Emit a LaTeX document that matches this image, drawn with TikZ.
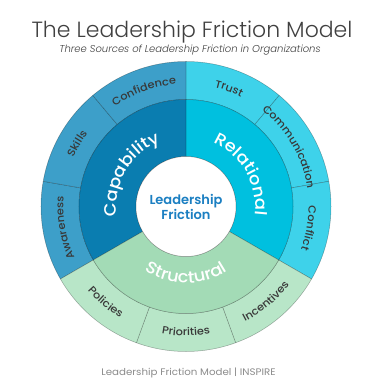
\documentclass[tikz,border=0pt]{standalone}
\usepackage{fontspec}
\setmainfont{Poppins}[FakeStretch=1.08]
\newfontfamily\lightfont{Poppins Light}
\newfontfamily\lightitfont{Poppins Light Italic}
\newfontfamily\medfont{Poppins Medium}[FakeStretch=1.08]
\newfontfamily\semifont{Poppins SemiBold}
\usetikzlibrary{decorations.text}
\definecolor{capIn}{HTML}{0A7DB0}
\definecolor{capOut}{HTML}{3D9FC9}
\definecolor{relIn}{HTML}{00C0DF}
\definecolor{relOut}{HTML}{3ED2EA}
\definecolor{strIn}{HTML}{A3DBB6}
\definecolor{strOut}{HTML}{B8E6C8}
\definecolor{centerBlue}{HTML}{1B7FC2}
\definecolor{labgray}{HTML}{383838}
\definecolor{titlegray}{HTML}{404040}
\definecolor{footgray}{HTML}{8C8C8C}
\newcommand\annsec[5]{\draw[seg,fill=#1] ({#4}:#2pt) arc[start angle=#4,end angle=#5,radius=#2pt] -- ({#5}:#3pt) arc[start angle=#5,end angle=#4,radius=#3pt] -- cycle;}
% clockwise label: center angle, baseline radius, format, text
\newcommand\cwlabel[4]{\path[decorate,decoration={text along path,text align=center,text={|#3|#4}}] ({#1+60}:#2pt) arc[start angle=#1+60,end angle=#1-60,radius=#2pt];}
\newcommand\ccwlabel[4]{\path[decorate,decoration={text along path,text align=center,text={|#3|#4}}] ({#1-60}:#2pt) arc[start angle=#1-60,end angle=#1+60,radius=#2pt];}
\newcommand\outfmt{\medfont\fontsize{10.5}{12}\selectfont\color{labgray}}
\newcommand\infmt{\medfont\fontsize{16.5}{18}\selectfont\color{white}}
\begin{document}
\begin{tikzpicture}[x=1pt,y=1pt,
  seg/.style={draw=black,draw opacity=0.3,line width=0.5pt}]
\useasboundingbox (-186,-178.5) rectangle (199,206.5);
\fill[white] (-186,-178.5) rectangle (199,206.5);
% outer ring
\annsec{capOut}{107}{145}{170}{210}
\annsec{capOut}{107}{145}{130}{170}
\annsec{capOut}{107}{145}{90}{130}
\annsec{relOut}{107}{145}{50}{90}
\annsec{relOut}{107}{145}{10}{50}
\annsec{relOut}{107}{145}{-30}{10}
\annsec{strOut}{107}{145}{-70}{-30}
\annsec{strOut}{107}{145}{-110}{-70}
\annsec{strOut}{107}{145}{-150}{-110}
% inner ring
\annsec{capIn}{50}{107}{90}{210}
\annsec{relIn}{50}{107}{-30}{90}
\annsec{strIn}{50}{107}{210}{330}
\draw[seg,fill=white] (0,0) circle[radius=50pt];
% inner labels
\cwlabel{150}{69.5}{\infmt}{Capability}
\cwlabel{30}{69.5}{\infmt}{Relational}
\ccwlabel{270}{76.5}{\infmt}{Structural}
% outer labels
\cwlabel{190}{122.6}{\outfmt}{Awareness}
\cwlabel{150}{122.6}{\outfmt}{Skills}
\cwlabel{110}{122.6}{\outfmt}{Confidence}
\cwlabel{70}{122.6}{\outfmt}{Trust}
\cwlabel{30}{122.6}{\outfmt}{Communication}
\cwlabel{-10}{122.6}{\outfmt}{Conflict}
\ccwlabel{-50}{129.4}{\outfmt}{Incentives}
\ccwlabel{-90}{129.4}{\outfmt}{Priorities}
\ccwlabel{-130}{129.4}{\outfmt}{Policies}
% centre
\node[align=center,inner sep=0pt,font=\semifont\fontsize{13}{12.5}\selectfont,text=centerBlue] (centre) at (0,-0.5) {Leadership\\Friction};
% titles
\node[anchor=base,inner sep=0pt,font=\lightfont\fontsize{22}{24}\selectfont,text=titlegray] (title) at (6,168.8) {The Leadership Friction Model};
\node[anchor=base,inner sep=0pt,font=\lightitfont\fontsize{10}{12}\selectfont,text=titlegray] (subtitle) at (4,153.8) {Three Sources of Leadership Friction in Organizations};
\node[anchor=base,inner sep=0pt,font=\fontsize{9.5}{11}\selectfont,text=footgray] (footer) at (2.5,-169) {Leadership Friction Model | INSPIRE};
\end{tikzpicture}
\end{document}
